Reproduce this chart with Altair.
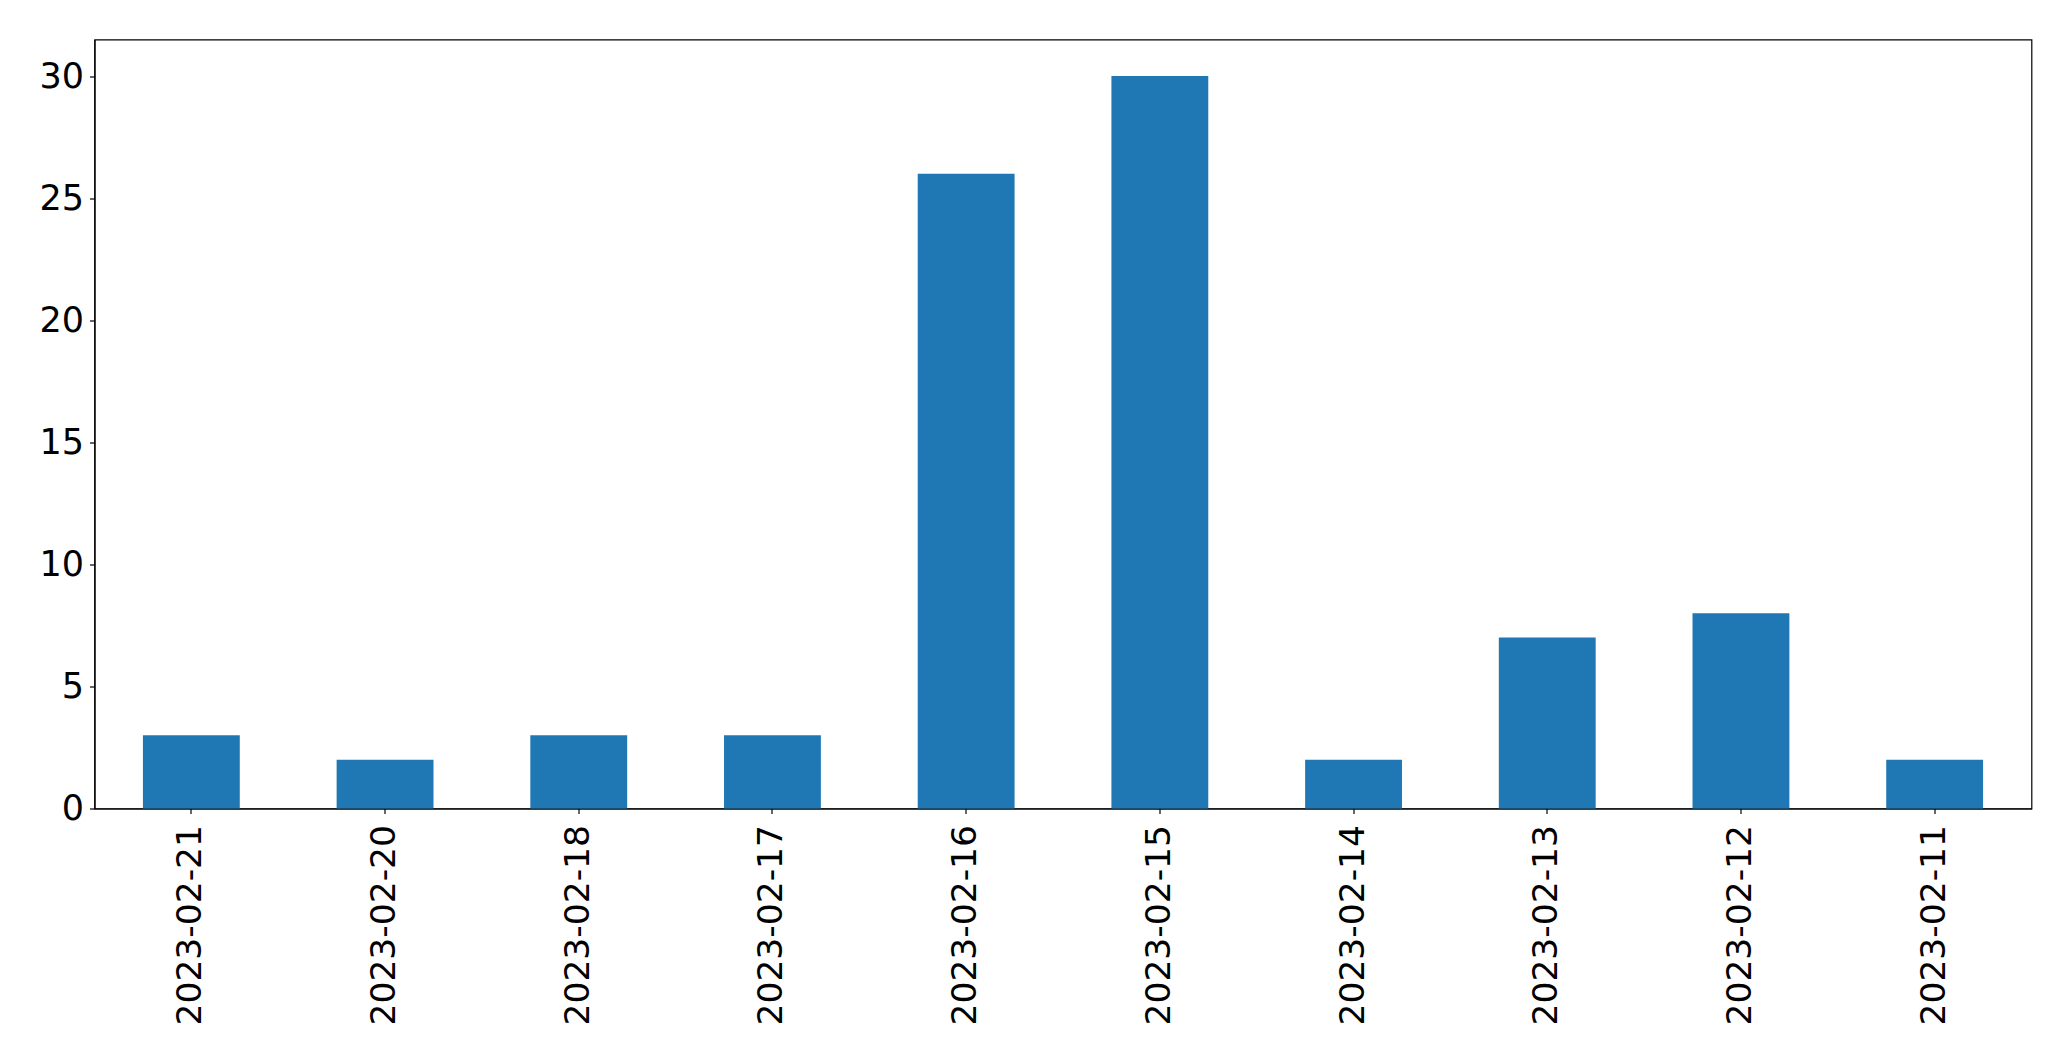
import altair as alt
import pandas as pd

dates = ["2023-02-21", "2023-02-20", "2023-02-18", "2023-02-17", "2023-02-16",
         "2023-02-15", "2023-02-14", "2023-02-13", "2023-02-12", "2023-02-11"]
counts = [3, 2, 3, 3, 26, 30, 2, 7, 8, 2]
y_ticks = [0, 5, 10, 15, 20, 25, 30]

df = pd.DataFrame({"date": dates, "count": counts})

chart = alt.Chart(df).mark_bar(color="#1f77b4").encode(
    x=alt.X("date:N", sort=None, title=None,
            scale=alt.Scale(paddingInner=0.5, paddingOuter=0.25),
            axis=alt.Axis(labelAngle=270, labelFontSize=34.5, labelColor="black",
                          tickColor="black", tickSize=5, labelPadding=11,
                          labelLimit=0,
                          domainColor="black", labelFont="DejaVu Sans")),
    y=alt.Y("count:Q", title=None,
            scale=alt.Scale(domain=[0, 31.5], nice=False),
            axis=alt.Axis(values=y_ticks, grid=False, labelFontSize=35,
                          labelColor="black", tickColor="black", tickSize=5,
                          labelPadding=6, domainColor="black",
                          labelFont="DejaVu Sans")),
).properties(
    width=1937, height=769,
    autosize=alt.AutoSizeParams(type="none"),
    padding={"left": 86.5, "top": 31.5, "right": 20, "bottom": 230},
).configure_view(
    stroke="black", strokeWidth=1.2
).configure_axis(
    domainWidth=1.2, tickWidth=1.2
)

chart.save("out.html", embed_options={"renderer": "svg", "actions": False})
